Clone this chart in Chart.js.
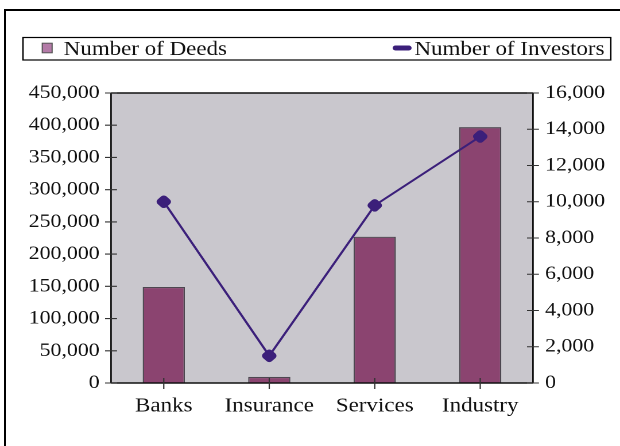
<!DOCTYPE html>
<html>
<head>
<meta charset="utf-8">
<script src="https://cdn.jsdelivr.net/npm/chart.js@4.4.1/dist/chart.umd.min.js"></script>
<style>
  html, body { margin: 0; padding: 0; background: #fff; width: 620px; height: 446px; overflow: hidden; }
  #frame { position: absolute; left: 4px; top: 9px; width: 700px; height: 500px;
           border-left: 2px solid #000; border-top: 2px solid #000; }
  /* the chart is laid out 540px wide and widened to the full 620px page */
  #wrap { position: absolute; left: 0; top: 0; width: 540px; height: 446px;
          transform: scaleX(1.148148); transform-origin: 0 0; }
</style>
</head>
<body>
<div id="frame"></div>
<div id="wrap"><canvas id="chart"></canvas></div>
<script>
// ---- data ----
const categories = ['Banks', 'Insurance', 'Services', 'Industry'];
const deeds = [149000, 9500, 227000, 397000];
const investors = [10000, 1500, 9800, 13600];
const deedTicks = [0, 50000, 100000, 150000, 200000, 250000, 300000, 350000, 400000, 450000];
const investorTicks = [0, 2000, 4000, 6000, 8000, 10000, 12000, 14000, 16000];

// ---- look ----
const FONT = '"Liberation Serif", "Times New Roman", serif';
const PLOT_BG = '#c9c7cd';
const BAR_FILL = '#8b4470';
const BAR_EDGE = '#4d4750';
const SWATCH_FILL = '#b47ba8';
const LINE_COLOR = '#3b1f7a';
const W = 540, H = 446;
const PLOT_LEFT = 96.7, PLOT_RIGHT = 464.2, PLOT_TOP = 93, PLOT_BOTTOM = 383;

const fmt = v => Number(v).toLocaleString('en-US');

// grey plot background, framed axes with ticks crossing each axis line
const axesPlugin = {
  id: 'axesFrame',
  beforeDatasetsDraw(chart) {
    const { ctx, chartArea: a } = chart;
    ctx.save();
    ctx.fillStyle = PLOT_BG;
    ctx.fillRect(a.left, a.top, a.right - a.left, a.bottom - a.top);
    ctx.restore();
  },
  afterDatasetsDraw(chart) {
    const { ctx, chartArea: a, scales } = chart;
    const T = 5.2;
    ctx.save();
    ctx.strokeStyle = '#111';
    ctx.lineWidth = 1.4;
    ctx.beginPath();
    ctx.moveTo(a.left, a.top); ctx.lineTo(a.right, a.top);
    ctx.moveTo(a.left, a.top); ctx.lineTo(a.left, a.bottom);
    ctx.moveTo(a.right, a.top); ctx.lineTo(a.right, a.bottom);
    ctx.moveTo(a.left, a.bottom); ctx.lineTo(a.right, a.bottom);
    ctx.stroke();
    ctx.lineWidth = 1.1;
    ctx.strokeStyle = '#333';
    ctx.beginPath();
    scales.y.ticks.forEach((t, i) => {
      const py = scales.y.getPixelForTick(i);
      ctx.moveTo(a.left - T, py); ctx.lineTo(a.left + T, py);
    });
    scales.y1.ticks.forEach((t, i) => {
      const py = scales.y1.getPixelForTick(i);
      ctx.moveTo(a.right - T, py); ctx.lineTo(a.right + T, py);
    });
    scales.x.ticks.forEach((t, i) => {
      const px = scales.x.getPixelForTick(i);
      ctx.moveTo(px, a.bottom - 5); ctx.lineTo(px, a.bottom + 6);
    });
    ctx.stroke();
    ctx.restore();
  }
};

// boxed legend across the top
const legendPlugin = {
  id: 'boxLegend',
  afterDraw(chart) {
    const { ctx } = chart;
    const ds = chart.data.datasets;
    const bx = 20, by = 37.5, bw = 512, bh = 22.5;
    ctx.save();
    ctx.strokeStyle = '#000';
    ctx.lineWidth = 1.2;
    ctx.strokeRect(bx, by, bw, bh);
    ctx.font = '20px ' + FONT;
    ctx.fillStyle = '#111';
    ctx.textBaseline = 'alphabetic';
    const baseY = 55;
    const midY = 48;
    // bar series: square swatch
    const barDs = ds[1];
    ctx.fillStyle = SWATCH_FILL;
    ctx.strokeStyle = '#555';
    ctx.lineWidth = 1;
    ctx.fillRect(36.8, midY - 4.8, 8.6, 9.6);
    ctx.strokeRect(36.8, midY - 4.8, 8.6, 9.6);
    ctx.fillStyle = '#111';
    ctx.textAlign = 'left';
    ctx.fillText(barDs.label, 55.5, baseY);
    // line series: rounded stroke swatch
    const lineDs = ds[0];
    const tw = ctx.measureText(lineDs.label).width;
    const tx = 526.5 - tw;
    ctx.fillText(lineDs.label, tx, baseY);
    ctx.strokeStyle = LINE_COLOR;
    ctx.lineWidth = 5;
    ctx.lineCap = 'round';
    ctx.beginPath();
    ctx.moveTo(tx - 16.5, midY); ctx.lineTo(tx - 5, midY);
    ctx.stroke();
    ctx.restore();
  }
};

function build() {
  new Chart(document.getElementById('chart'), {
    data: {
      labels: categories,
      datasets: [
        {
          type: 'line',
          label: 'Number of Investors',
          data: investors,
          yAxisID: 'y1',
          order: 0,
          borderColor: LINE_COLOR,
          backgroundColor: LINE_COLOR,
          borderWidth: 2,
          tension: 0,
          pointStyle: 'rectRounded',
          rotation: 45,
          pointRadius: 6.3,
          pointBorderWidth: 0,
          pointBackgroundColor: LINE_COLOR
        },
        {
          type: 'bar',
          label: 'Number of Deeds',
          data: deeds,
          yAxisID: 'y',
          order: 1,
          backgroundColor: BAR_FILL,
          borderColor: BAR_EDGE,
          borderWidth: 1.2,
          categoryPercentage: 1,
          barPercentage: 0.4
        }
      ]
    },
    options: {
      responsive: false,
      devicePixelRatio: 2,
      animation: false,
      layout: { padding: { top: PLOT_TOP, left: 0, right: 0, bottom: 0 } },
      plugins: { legend: { display: false }, tooltip: { enabled: false } },
      scales: {
        x: {
          type: 'category',
          offset: true,
          grid: { display: false, drawTicks: false },
          border: { display: false },
          ticks: { font: { family: FONT, size: 20 }, color: '#111', padding: 11, maxRotation: 0 },
          afterFit(s) { s.height = H - PLOT_BOTTOM; }
        },
        y: {
          position: 'left',
          min: deedTicks[0],
          max: deedTicks[deedTicks.length - 1],
          grid: { display: false, drawTicks: false },
          border: { display: false },
          ticks: {
            stepSize: deedTicks[1] - deedTicks[0],
            font: { family: FONT, size: 19 }, color: '#111', padding: 10,
            callback: v => fmt(v)
          },
          afterFit(s) { s.width = PLOT_LEFT; }
        },
        y1: {
          position: 'right',
          min: investorTicks[0],
          max: investorTicks[investorTicks.length - 1],
          grid: { display: false, drawTicks: false },
          border: { display: false },
          ticks: {
            stepSize: investorTicks[1] - investorTicks[0],
            font: { family: FONT, size: 19 }, color: '#111', padding: 10.5,
            callback: v => fmt(v)
          },
          afterFit(s) { s.width = W - PLOT_RIGHT; }
        }
      }
    },
    plugins: [axesPlugin, legendPlugin]
  });
}

const c = document.getElementById('chart');
c.width = W; c.height = H;
if (document.fonts && document.fonts.load) {
  document.fonts.load('20px "Liberation Serif"').then(build, build);
} else {
  build();
}
</script>
</body>
</html>
